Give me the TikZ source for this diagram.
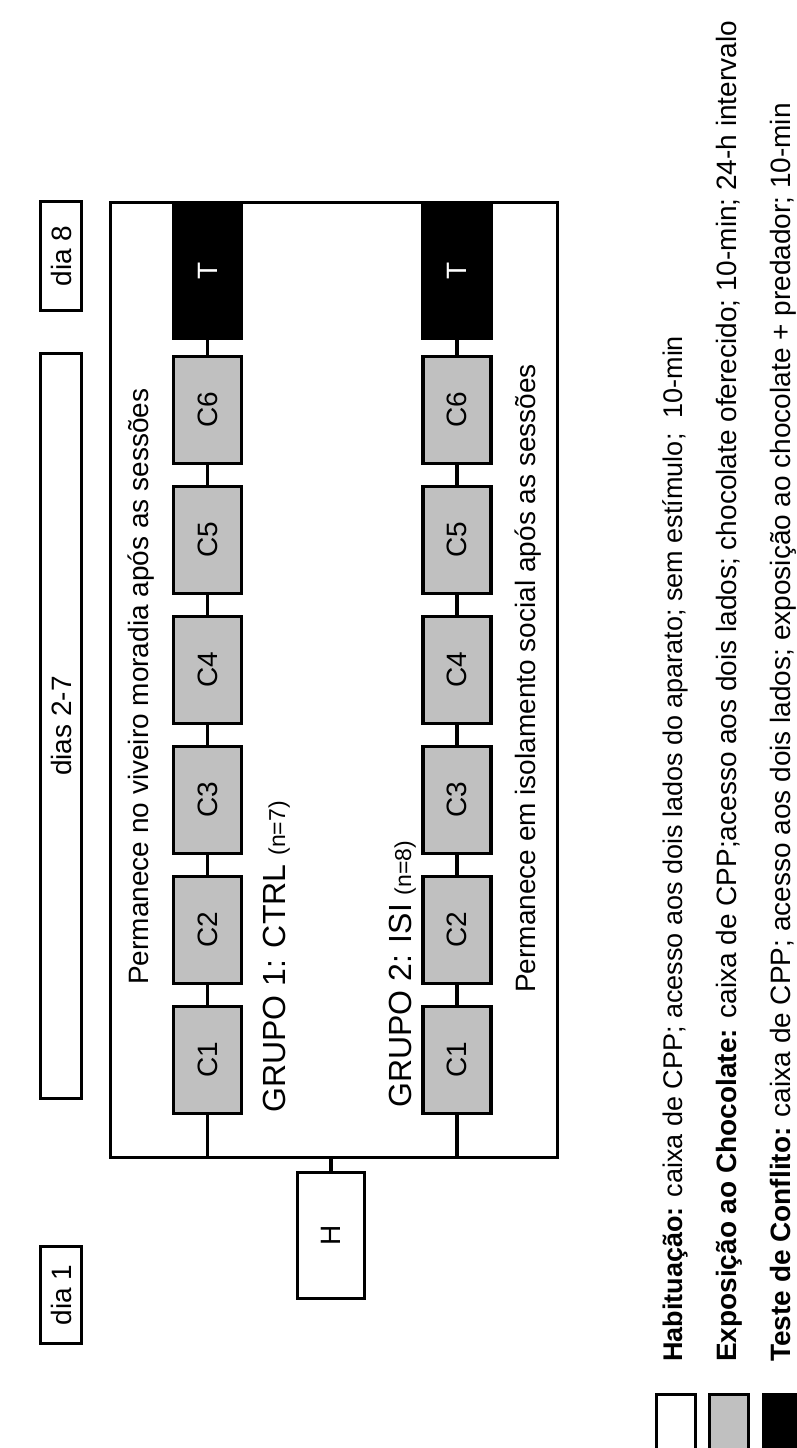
\documentclass[tikz,border=0pt]{standalone}
\usepackage{fontspec}
\setmainfont{Liberation Sans}
\definecolor{boxgray}{RGB}{192,192,192}
\newcommand{\fsz}[1]{\fontsize{#1}{#1}\selectfont}
\begin{document}
\begin{tikzpicture}[x=1pt,y=-1pt,
  base/.style={draw=black, line width=3.5pt, inner sep=0pt, font=\fsz{28}},
  cbox/.style={base, fill=boxgray, minimum width=68pt, minimum height=107pt},
  tbox/.style={base, fill=black, text=white, minimum width=68pt, minimum height=135pt},
  hbox/.style={base, fill=white, minimum width=67pt, minimum height=126pt},
  daybox/.style={draw=black, line width=3pt, fill=white, inner sep=0pt, font=\fsz{28}, minimum width=41pt},
  keybox/.style={draw=black, line width=3pt, minimum width=39pt, minimum height=80pt, inner sep=0pt},
  link/.style={line width=3.5pt},
  lbl/.style={inner sep=0pt, rotate=90, anchor=base west, font=\fsz{28}},
]
\useasboundingbox (0,0) rectangle (797,1448);
\fill[white] (0,0) rectangle (797,1448);

% frame
\draw[line width=3pt] (110,202) rectangle (557,1157);

% groups
\foreach \k in {1,...,6} {
  \node[cbox] (a\k) at (207.5,{1060-130*(\k-1)}) {\rotatebox{90}{C\k}};
  \node[cbox] (c\k) at (457,{1060-130*(\k-1)}) {\rotatebox{90}{C\k}};
}
\node[tbox] (aT) at (207.5,271) {\rotatebox{90}{T}};
\node[tbox] (cT) at (457,271) {\rotatebox{90}{T}};
\foreach \i/\j in {1/2,2/3,3/4,4/5,5/6} {
  \draw[link] (a\i) -- (a\j);
  \draw[link] (c\i) -- (c\j);
}
\draw[link] (a6) -- (aT);
\draw[link] (c6) -- (cT);

% bus and H
\coordinate (b1) at (207.5,1157);
\coordinate (b2) at (457,1157);
\coordinate (bh) at (331,1157);
\node[hbox] (H) at (331,1235.5) {\rotatebox{90}{H}};
\draw[link] (a1) -- (b1);
\draw[link] (c1) -- (b2);
\draw[line width=3pt] (b1) -- (b2);
\draw[link] (H) -- (bh);

% texts in frame
\node[lbl] (p1) at (148,985) {Permanece no viveiro moradia após as sessões};
\node[lbl] (p2) at (535,993) {Permanece em isolamento social após as sessões};
\node[lbl, font=\fsz{32}] (g1) at (285,1113) {GRUPO 1: CTRL {\fsz{23}(n=7)}};
\node[lbl, font=\fsz{32}] (g2) at (411,1108) {GRUPO 2: ISI {\fsz{23}(n=8)}};

% day boxes
\node[daybox, minimum height=97pt] (d1) at (61,1295) {\rotatebox{90}{dia 1}};
\node[daybox, minimum height=745pt] (d27) at (61,726) {\rotatebox{90}{dias 2-7}};
\node[daybox, minimum height=109pt] (d8) at (61,256) {\rotatebox{90}{dia 8}};

% legend
\node[keybox, fill=white] (k1) at (676,1434.5) {};
\node[keybox, fill=boxgray] (k2) at (729,1434.5) {};
\node[keybox, fill=black] (k3) at (783,1434.5) {};
\node[lbl, font=\fsz{27}] (t1) at (682,1362) {\textbf{Habituação:} caixa de CPP; acesso aos dois lados do aparato; sem estímulo;\ \ 10-min};
\node[lbl] (t2) at (736,1362) {\textbf{Exposição ao Chocolate:} caixa de CPP;acesso aos dois lados; chocolate oferecido; 10-min; 24-h intervalo};
\node[lbl] (t3) at (790,1362) {\textbf{Teste de Conflito:} caixa de CPP; acesso aos dois lados; exposição ao chocolate + predador; 10-min};
\end{tikzpicture}
\end{document}
